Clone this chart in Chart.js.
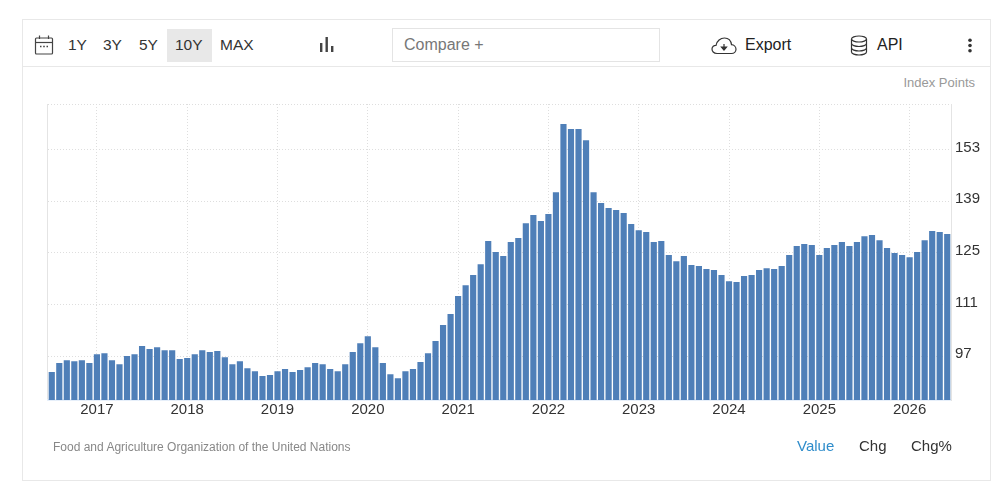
<!DOCTYPE html>
<html>
<head>
<meta charset="utf-8">
<title>Food Price Index</title>
<script src="https://cdn.jsdelivr.net/npm/chart.js@4"></script>
<style>
  html, body { margin: 0; padding: 0; background: #fff; }
  body { width: 995px; height: 481px; overflow: hidden; position: relative; font-family: "Liberation Sans", Arial, sans-serif; }
  #card { position: absolute; left: 22px; top: 19px; width: 967px; height: 460px; border: 1px solid #e8e8e8; }
  #toolbarLine { position: absolute; left: 23px; top: 66px; width: 967px; height: 1px; background: #e8e8e8; }
  #leftLine { position: absolute; left: 47px; top: 104px; width: 1px; height: 296px; background: #e4e4e4; }
  #chartBox { position: absolute; left: 0; top: 0; width: 995px; height: 481px; }
  .t { position: absolute; white-space: nowrap; line-height: 20px; color: #333; }
  .range { font-size: 15.5px; top: 35px; }
  #selected { position: absolute; left: 167px; top: 29px; width: 45px; height: 33px; background: #e8e8e8; }
  #compare { position: absolute; left: 392px; top: 28px; width: 266px; height: 32px; border: 1px solid #e4e4e4; }
  svg { position: absolute; }
</style>
</head>
<body>
<div id="card"></div>
<div id="toolbarLine"></div>
<div id="selected"></div>
<div id="compare"></div>

<svg style="left:34px;top:34px" width="20" height="22" viewBox="0 0 20 22" fill="none" stroke="#444" stroke-width="1.2">
  <rect x="1.5" y="4" width="17" height="16" rx="1"/><line x1="1.5" y1="8.5" x2="18.5" y2="8.5"/>
  <line x1="5.5" y1="1.5" x2="5.5" y2="5"/><line x1="14.5" y1="1.5" x2="14.5" y2="5"/>
  <line x1="6" y1="12.5" x2="7.5" y2="12.5" stroke-width="1.6"/><line x1="9.2" y1="12.5" x2="10.8" y2="12.5" stroke-width="1.6"/><line x1="12.5" y1="12.5" x2="14" y2="12.5" stroke-width="1.6"/>
</svg>
<div class="t range" style="left:68px">1Y</div>
<div class="t range" style="left:103px">3Y</div>
<div class="t range" style="left:139px">5Y</div>
<div class="t range" style="left:175px">10Y</div>
<div class="t range" style="left:220px">MAX</div>
<svg style="left:319px;top:36px" width="16" height="18" fill="#444">
  <rect x="1" y="7" width="2.4" height="9"/><rect x="6.5" y="1" width="2.4" height="15"/><rect x="12" y="10" width="2.4" height="6"/>
</svg>
<div class="t" style="left:404px;top:35px;font-size:16px;color:#777">Compare +</div>
<svg style="left:711px;top:36px" width="26" height="19" viewBox="0 0 26 19" fill="none" stroke="#333" stroke-width="1.2">
  <path d="M6 17.5 C2.5 17.5 1 15 1 13 C1 10.8 3 9.2 5 9.4 C5.8 5 9.5 2 13.5 2 C17.5 2 20 5 20.5 8.6 C23 8.8 25 10.8 25 13.2 C25 15.5 23 17.5 20.5 17.5 Z"/>
  <path d="M13 8 V13 M10.5 11 L13 14 L15.5 11 Z" fill="#333"/>
</svg>
<div class="t" style="left:745px;top:35px;font-size:16px;color:#222">Export</div>
<svg style="left:850px;top:35px" width="18" height="21" viewBox="0 0 18 21" fill="none" stroke="#333" stroke-width="1.2">
  <ellipse cx="9" cy="4" rx="7.5" ry="3"/>
  <path d="M1.5 4 V17 C1.5 18.7 5 20 9 20 C13 20 16.5 18.7 16.5 17 V4"/>
  <path d="M1.5 8.5 C1.5 10.2 5 11.5 9 11.5 C13 11.5 16.5 10.2 16.5 8.5"/>
  <path d="M1.5 13 C1.5 14.7 5 16 9 16 C13 16 16.5 14.7 16.5 13"/>
</svg>
<div class="t" style="left:877px;top:35px;font-size:16px;color:#222">API</div>
<svg style="left:966px;top:38px" width="8" height="15" fill="#333">
  <circle cx="4" cy="2.2" r="1.8"/><circle cx="4" cy="7.5" r="1.8"/><circle cx="4" cy="12.8" r="1.8"/>
</svg>
<div class="t" style="right:20px;top:73px;font-size:13px;color:#999">Index Points</div>

<div id="leftLine"></div>
<div id="chartBox"><canvas id="foodChart" width="995" height="481"></canvas></div>

<div class="t" style="left:53px;top:437px;font-size:12px;color:#888">Food and Agriculture Organization of the United Nations</div>
<div class="t" style="left:797px;top:436px;font-size:15px;color:#2f8dcb">Value</div>
<div class="t" style="left:859px;top:436px;font-size:15px">Chg</div>
<div class="t" style="left:911px;top:436px;font-size:15px">Chg%</div>

<script>
// months from Jul 2016 to Jun 2026
const years = [2016, 2017, 2018, 2019, 2020, 2021, 2022, 2023, 2024, 2025, 2026];
const months = ['Jan', 'Feb', 'Mar', 'Apr', 'May', 'Jun', 'Jul', 'Aug', 'Sep', 'Oct', 'Nov', 'Dec'];

const indexValues = [
    92.7, 95.1, 95.9, 95.6, 95.9, 95.1,
    97.5, 97.8, 95.9, 94.8, 97.0, 97.5, 99.7, 98.9, 99.4, 98.6, 98.6, 96.2,
    96.5, 97.5, 98.6, 98.1, 98.4, 96.7, 94.8, 95.6, 93.7, 92.9, 91.6, 91.9,
    92.9, 93.5, 92.7, 93.2, 94.0, 95.1, 94.8, 93.5, 92.9, 94.8, 98.1, 100.5,
    102.4, 99.4, 95.1, 92.1, 91.0, 92.9, 93.5, 95.4, 97.8, 101.1, 105.4, 108.4,
    113.3, 116.2, 119.0, 121.9, 128.2, 125.2, 124.1, 127.9, 129.0, 133.0, 135.2, 133.6,
    135.5, 141.4, 159.9, 158.5, 158.5, 155.5, 141.4, 138.5, 137.1, 136.6, 135.8, 132.8,
    131.1, 130.6, 127.9, 128.2, 124.4, 122.7, 124.1, 121.7, 121.4, 120.6, 120.3, 119.0,
    117.3, 117.1, 118.7, 119.0, 120.3, 120.8, 120.6, 121.4, 124.4, 126.8, 127.4, 127.1,
    124.4, 126.3, 127.1, 127.9, 126.8, 127.9, 129.5, 129.8, 128.4, 126.3, 124.9, 124.4,
    123.8, 125.2, 128.4, 130.9, 130.6, 130.1
];

const yTickValues = [97, 111, 125, 139, 153];
const yMin = 85.1;
const yMax = 165.3;

// category labels, one for each bar
const categories = [];
years.forEach(function (year) {
    months.forEach(function (month, m) {
        if (year === 2016 && m < 6) return;
        if (year === 2026 && m > 5) return;
        categories.push(month + ' ' + year);
    });
});

const isJanuary = (index) => categories[index].startsWith('Jan');

new Chart(document.getElementById('foodChart'), {
    type: 'bar',
    data: {
        labels: categories,
        datasets: [{
            label: 'Index Points',
            data: indexValues,
            backgroundColor: '#4f7fb8',
            barPercentage: 0.82,
            categoryPercentage: 1
        }]
    },
    options: {
        responsive: false,
        animation: false,
        layout: { padding: { left: 48, top: 104, right: 0, bottom: 0 } },
        plugins: { legend: { display: false }, tooltip: { enabled: false } },
        scales: {
            x: {
                grid: {
                    offset: false,
                    drawTicks: false,
                    color: (c) => (c.index !== undefined && categories[c.index] && isJanuary(c.index)) ? '#dedede' : 'transparent'
                },
                border: { color: '#e6effa', width: 2, dash: [1, 2] },
                ticks: {
                    autoSkip: false,
                    maxRotation: 0,
                    minRotation: 0,
                    padding: 1,
                    color: '#333',
                    font: { family: '"Liberation Sans", Arial, sans-serif', size: 15 },
                    callback: function (value, index) {
                        return isJanuary(index) ? categories[index].slice(4) : '';
                    }
                },
                afterFit: function (scale) { scale.height = 81; }
            },
            y: {
                position: 'right',
                min: yMin,
                max: yMax,
                afterBuildTicks: function (scale) {
                    scale.ticks = yTickValues.concat([yMax]).map((v) => ({ value: v }));
                },
                grid: { drawTicks: false, color: '#dedede' },
                border: { color: '#e4e4e4', dash: [1, 2] },
                ticks: {
                    padding: 4,
                    color: '#333',
                    // blank second line with a small line height lifts the label 2px over its grid line
                    font: { family: '"Liberation Sans", Arial, sans-serif', size: 15, lineHeight: 0.27 },
                    callback: (value) => yTickValues.includes(value) ? [String(value), ''] : ''
                },
                afterFit: function (scale) { scale.width = 44; }
            }
        }
    }
});
</script>
</body>
</html>
